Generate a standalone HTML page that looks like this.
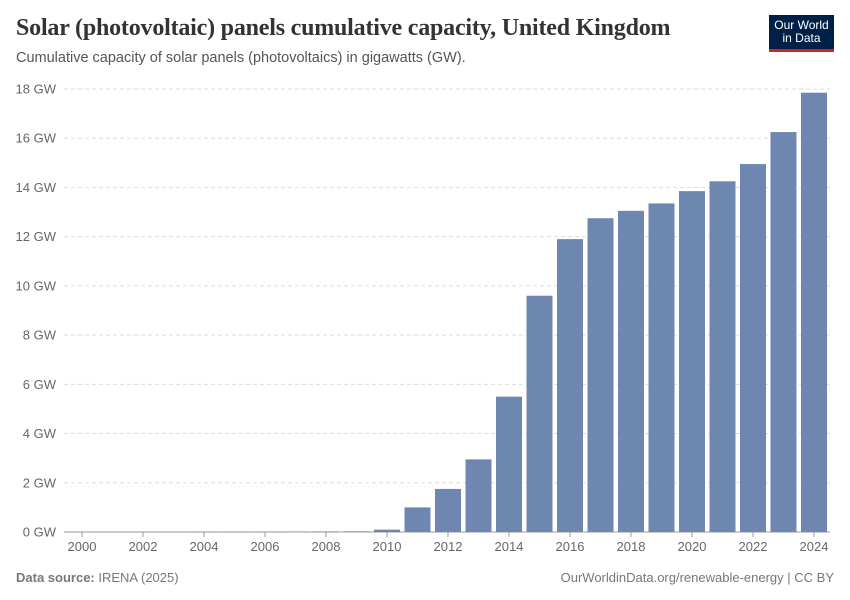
<!DOCTYPE html>
<html><head><meta charset="utf-8"><style>
body{margin:0;background:#fff;font-family:"Liberation Sans",sans-serif;}
#wrap{position:relative;width:850px;height:600px;overflow:hidden;}
.title{position:absolute;left:16px;top:15px;font-family:"Liberation Serif",serif;font-size:24px;font-weight:bold;color:#333;letter-spacing:-0.2px;}
.sub{position:absolute;left:16px;top:50px;font-size:14.5px;color:#555;}
.logo{position:absolute;left:769px;top:15px;width:65px;height:37px;background:#002147;border-bottom:3px solid #ce261e;box-sizing:border-box;color:#fff;font-size:12px;line-height:13px;text-align:center;padding-top:4px;}
.foot{position:absolute;top:570px;font-size:13px;color:#777;}
</style></head><body>
<div id="wrap">
<div class="title">Solar (photovoltaic) panels cumulative capacity, United Kingdom</div>
<div class="sub">Cumulative capacity of solar panels (photovoltaics) in gigawatts (GW).</div>
<div class="logo">Our World<br>in Data</div>
<svg id="svg" width="850" height="600" style="position:absolute;left:0;top:0"></svg>
<div class="foot" style="left:16px"><b>Data source:</b> IRENA (2025)</div>
<div class="foot" style="right:16px">OurWorldinData.org/renewable-energy | CC BY</div>
</div>
<script>
const years=[2000,2001,2002,2003,2004,2005,2006,2007,2008,2009,2010,2011,2012,2013,2014,2015,2016,2017,2018,2019,2020,2021,2022,2023,2024];
const values=[0.002,0.003,0.004,0.006,0.008,0.011,0.014,0.018,0.023,0.027,0.095,1.0,1.75,2.95,5.5,9.6,11.9,12.75,13.05,13.35,13.85,14.25,14.95,16.25,17.85];
const yTicks=[0,2,4,6,8,10,12,14,16,18];
const xTicks=[2000,2002,2004,2006,2008,2010,2012,2014,2016,2018,2020,2022,2024];
const NS="http://www.w3.org/2000/svg";
const svg=document.getElementById('svg');
const y0=532,pxPer=(532-89)/18;
const yS=v=>y0-v*pxPer;
const xS=yr=>82+(yr-2000)*30.5;
function mk(t,a){const e=document.createElementNS(NS,t);for(const k in a)e.setAttribute(k,a[k]);svg.appendChild(e);return e;}
yTicks.forEach(t=>{
  const l=mk('line',{x1:64,x2:830,y1:yS(t),y2:yS(t),stroke:t===0?'#999':'#ddd','stroke-dasharray':t===0?'':'4,3'});
  
  
  const tx=mk('text',{x:56,y:yS(t)+4.5,'text-anchor':'end','font-size':13,fill:'#666','font-family':'Liberation Sans'});
  tx.textContent=t+' GW';
  
  
});
years.forEach((yr,i)=>{
  const h=values[i]*pxPer;
  const r=mk('rect',{x:xS(yr)-13,y:y0-h,width:26,height:h,fill:'#6d87b0'});
  
  
});
xTicks.forEach(yr=>{
  mk('line',{x1:xS(yr),x2:xS(yr),y1:y0,y2:y0+5,stroke:'#999'});
  const tx=mk('text',{x:xS(yr),y:y0+19,'text-anchor':'middle','font-size':13,fill:'#666','font-family':'Liberation Sans'});
  tx.textContent=yr;
  
  
});
</script>
</body></html>
